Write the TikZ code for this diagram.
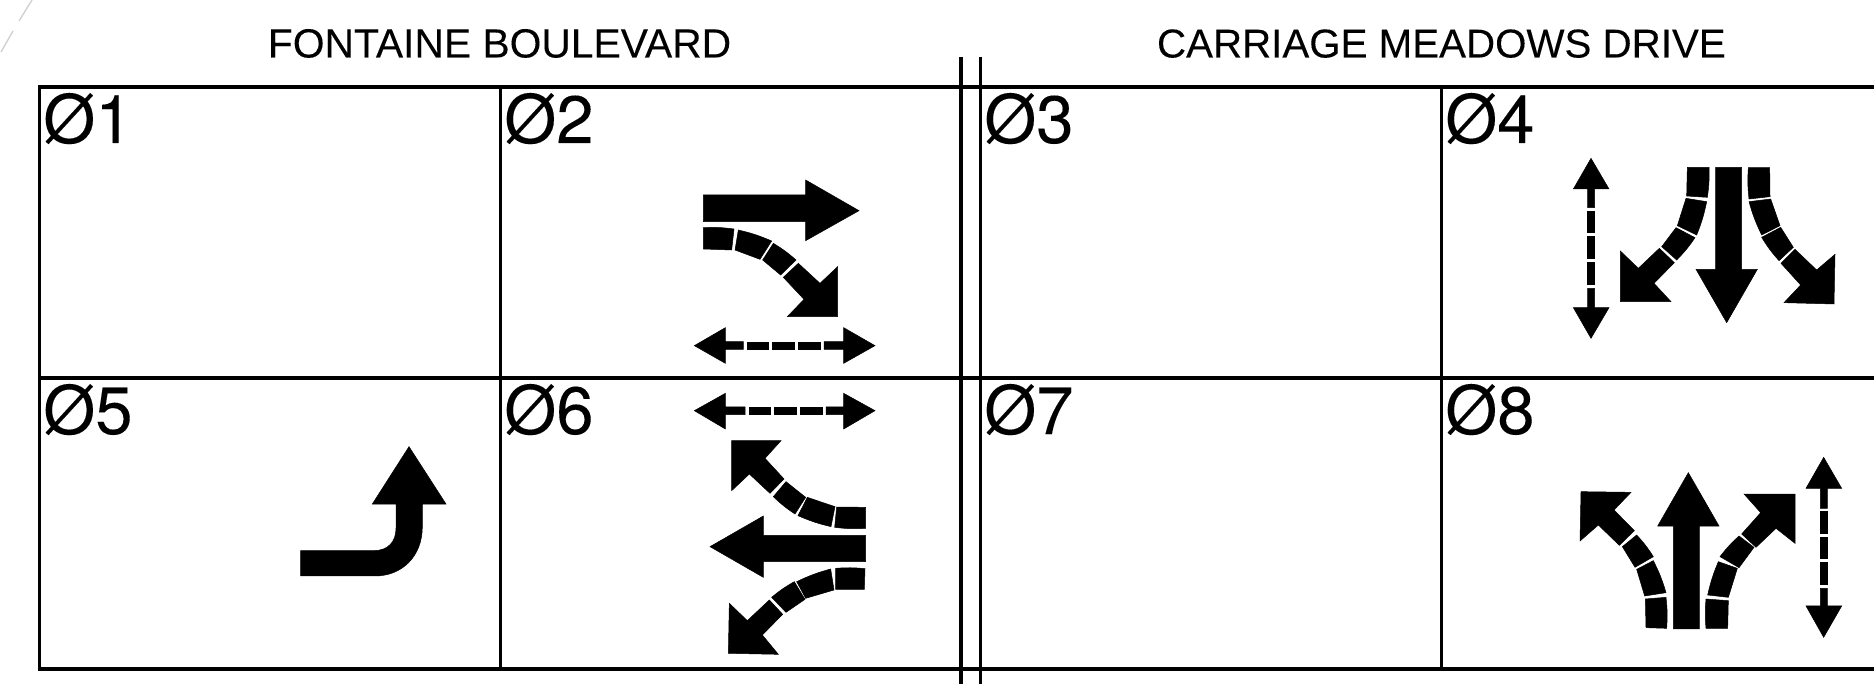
\documentclass[tikz,border=0pt]{standalone}
\usepackage{fontspec}
\setmainfont{Liberation Sans}[FakeBold=0.12]
\newfontfamily\phasefont{TeX Gyre Heros}[FakeBold=0.12]
\tikzset{
  grid line/.style={draw=black,line width=3.1pt},
  faint/.style={draw=black!18,line width=1.4pt},
  title text/.style={anchor=base,inner sep=0pt,font=\fontsize{40.8}{41}\selectfont},
  phase text/.style={anchor=base west,inner sep=0pt,font=\phasefont\fontsize{67}{67}\selectfont},
  ink/.style={fill=black,draw=black,line width=0.5pt},
  bl/.style={bend left=5},
  br/.style={bend right=5},
  zoomed/.style={shift={#1},scale=1/3}
}
\begin{document}
\begin{tikzpicture}[x=1pt,y=-1pt]
\useasboundingbox (0,0) rectangle (1874,684);
% faint corner mark
\draw[faint] (32,0) -- (19,21);
\draw[faint] (13,31) -- (1,52);
% table
\draw[grid line] (1874,87) -- (39.5,87) -- (39.5,669) -- (1874,669);
\draw[grid line] (39.5,378) -- (1874,378);
\draw[grid line] (500.7,87) -- (500.7,669);
\draw[grid line] (1441.5,87) -- (1441.5,669);
\draw[grid line] (961,57) -- (961,684);
\draw[grid line] (980.5,57) -- (980.5,684);
% titles
\node[title text] (t1) at (499.5,57.5) {FONTAINE BOULEVARD};
\node[title text,font=\fontsize{40.3}{41}\selectfont] (t2) at (1441.4,57.5) {CARRIAGE MEADOWS DRIVE};
% phases
\node[phase text] (p1) at (43,143) {Ø1};
\node[phase text] (p2) at (504,143) {Ø2};
\node[phase text] (p3) at (984,143) {Ø3};
\node[phase text] (p4) at (1445,143) {Ø4};
\node[phase text] (p5) at (43,434) {Ø5};
\node[phase text] (p6) at (504,434) {Ø6};
\node[phase text] (p7) at (984,434) {Ø7};
\node[phase text] (p8) at (1445,434) {Ø8};
% Phase 2
\begin{scope}[zoomed={(660,160)}]
\filldraw[ink] (130,105) -- (437,105) -- (437,60) -- (597,152) -- (437,242) -- (437,185) -- (130,185) -- cycle;
\filldraw[ink] (130,203) to[bl] (222,207) -- (215,270) -- (130,267) -- cycle;
\filldraw[ink] (235,210) to[bl] (335,243) -- (300,298) -- (225,270) -- cycle;
\filldraw[ink] (340,250) to[bl] (408,300) -- (362,345) -- (308,300) -- cycle;
\filldraw[ink] (415,310) -- (480,370) -- (533,320) -- (533,470) -- (382,470) -- (432,418) -- (370,352) -- cycle;
\filldraw[ink] (196,545) -- (196,503) -- (103,557) -- (196,610) -- (196,568) -- (250,568) -- (250,545) -- cycle;
\filldraw[ink] (262,546) rectangle (325,568);
\filldraw[ink] (338,546) rectangle (403,568);
\filldraw[ink] (416,546) rectangle (480,568);
\filldraw[ink] (551,545) -- (551,503) -- (645,557) -- (551,610) -- (551,568) -- (492,568) -- (492,545) -- cycle;
\end{scope}
% Phase 6
\begin{scope}[zoomed={(660,380)}]
\filldraw[ink] (196,81) -- (196,40) -- (103,92) -- (196,147) -- (196,104) -- (255,104) -- (255,81) -- cycle;
\filldraw[ink] (267,82) rectangle (332,104);
\filldraw[ink] (342,82) rectangle (410,104);
\filldraw[ink] (420,82) rectangle (488,104);
\filldraw[ink] (551,81) -- (551,40) -- (645,92) -- (551,147) -- (551,104) -- (498,104) -- (498,81) -- cycle;
\filldraw[ink] (215,182) -- (363,182) -- (315,235) -- (372,297) -- (330,340) -- (268,282) -- (215,332) -- cycle;
\filldraw[ink] (405,402) to[bl] (340,350) -- (378,305) -- (437,352) -- cycle;
\filldraw[ink] (513,440) to[bl] (414,407) -- (442,352) -- (525,380) -- cycle;
\filldraw[ink] (617,445) to[bl] (524,442) -- (530,381) -- (617,382) -- cycle;
\filldraw[ink] (617,466) -- (310,466) -- (310,408) -- (150,500) -- (310,592) -- (310,545) -- (617,545) -- cycle;
\filldraw[ink] (615,566) to[br] (527,565) -- (527,628) -- (613,628) -- cycle;
\filldraw[ink] (512,567) to[br] (410,605) -- (437,655) -- (522,630) -- cycle;
\filldraw[ink] (403,605) to[br] (335,652) -- (378,697) -- (435,658) -- cycle;
\filldraw[ink] (328,660) -- (368,703) -- (307,765) -- (355,823) -- (205,820) -- (208,670) -- (262,722) -- cycle;
\end{scope}
% Phase 4
\begin{scope}[zoomed={(1540,140)}]
\filldraw[ink] (143,203) -- (143,147) -- (100,147) -- (153,55) -- (207,147) -- (164,147) -- (164,203) -- cycle;
\filldraw[ink] (143,213) rectangle (164,277);
\filldraw[ink] (143,290) rectangle (164,355);
\filldraw[ink] (143,367) rectangle (164,432);
\filldraw[ink] (143,445) -- (143,503) -- (100,503) -- (153,595) -- (207,503) -- (164,503) -- (164,445) -- cycle;
\filldraw[ink] (527,82) -- (605,82) -- (605,388) -- (652,388) -- (560,548) -- (468,388) -- (527,388) -- cycle;
\filldraw[ink] (507,82) to[bl] (502,172) -- (440,168) -- (442,82) -- cycle;
\filldraw[ink] (500,185) to[bl] (470,285) -- (412,257) -- (438,175) -- cycle;
\filldraw[ink] (465,293) to[bl] (410,360) -- (365,320) -- (408,263) -- cycle;
\filldraw[ink] (358,325) -- (403,368) -- (342,430) -- (393,485) -- (241,485) -- (241,333) -- (295,385) -- cycle;
\filldraw[ink] (625,83) to[br] (627,177) -- (690,170) -- (689,83) -- cycle;
\filldraw[ink] (627,185) to[br] (665,285) -- (720,257) -- (692,177) -- cycle;
\filldraw[ink] (665,292) to[br] (717,362) -- (760,322) -- (722,262) -- cycle;
\filldraw[ink] (765,328) -- (830,390) -- (885,343) -- (882,492) -- (732,488) -- (782,435) -- (723,370) -- cycle;
\end{scope}
% Phase 5
\begin{scope}[zoomed={(280,430)}]
\filldraw[ink] (62,362) -- (280,362) .. controls (325,362) and (348,335) .. (348,295) -- (348,222) -- (277,222) -- (387,50) -- (498,222) -- (427,222) -- (427,290) .. controls (427,380) and (365,438) .. (285,438) -- (62,438) -- cycle;
\end{scope}
% Phase 8
\begin{scope}[zoomed={(1540,440)}]
\filldraw[ink] (841,205) -- (841,145) -- (798,145) -- (851,52) -- (905,145) -- (862,145) -- (862,205) -- cycle;
\filldraw[ink] (841,215) rectangle (862,280);
\filldraw[ink] (841,292) rectangle (862,355);
\filldraw[ink] (841,367) rectangle (862,432);
\filldraw[ink] (841,445) -- (841,498) -- (798,498) -- (851,592) -- (905,498) -- (862,498) -- (862,445) -- cycle;
\filldraw[ink] (400,567) -- (400,258) -- (353,258) -- (445,98) -- (537,258) -- (478,258) -- (478,567) -- cycle;
\filldraw[ink] (380,565) to[br] (378,472) -- (316,477) -- (318,563) -- cycle;
\filldraw[ink] (378,458) to[br] (340,362) -- (290,388) -- (314,468) -- cycle;
\filldraw[ink] (340,350) to[br] (290,285) -- (247,320) -- (285,382) -- cycle;
\filldraw[ink] (238,316) -- (283,272) -- (222,210) -- (273,157) -- (123,155) -- (120,303) -- (175,255) -- cycle;
\filldraw[ink] (498,565) to[bl] (498,477) -- (565,482) -- (563,565) -- cycle;
\filldraw[ink] (503,465) to[bl] (535,365) -- (592,385) -- (565,472) -- cycle;
\filldraw[ink] (540,350) to[bl] (597,288) -- (642,322) -- (597,383) -- cycle;
\filldraw[ink] (605,282) -- (662,218) -- (612,162) -- (765,162) -- (765,310) -- (708,265) -- (648,322) -- cycle;
\end{scope}
\end{tikzpicture}
\end{document}
